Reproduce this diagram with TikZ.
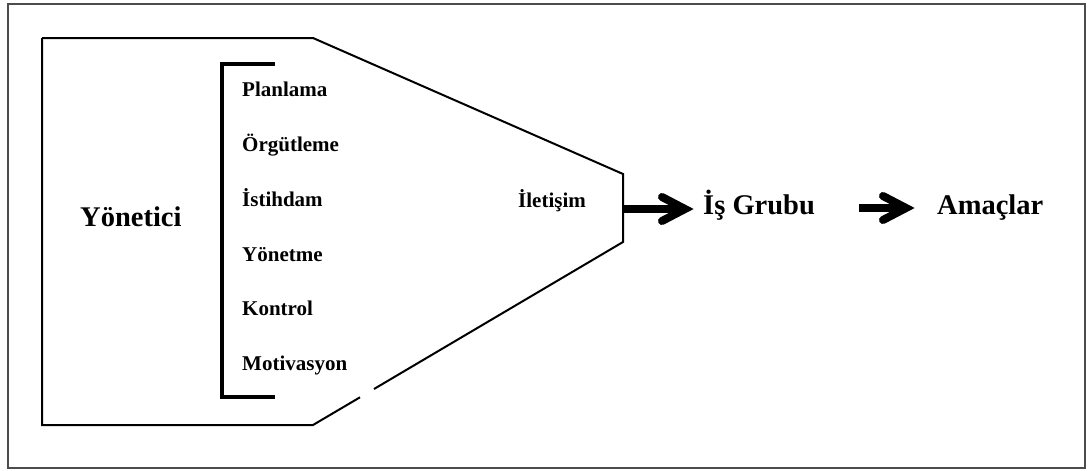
\documentclass[tikz,border=0pt]{standalone}
\usepackage{fontspec}
\setmainfont{Liberation Serif}
\usetikzlibrary{calc}
\tikzset{
  frame/.style={draw=black!70, line width=1.2pt},
  outline/.style={draw=black, line width=2pt},
  bracket/.style={draw=black, line width=3.5pt},
  item/.style={anchor=base west, inner sep=0pt, font=\fontsize{21}{25}\selectfont\bfseries},
  big/.style={anchor=base west, inner sep=0pt, font=\fontsize{28.5}{34}\selectfont\bfseries},
  shaft/.style={draw=black, line width=8pt},
  chevron/.style={draw=black, line width=8pt, line cap=round, line join=miter},
}
\begin{document}
\begin{tikzpicture}[x=1pt, y=-1pt]
\useasboundingbox (0,0) rectangle (1088,471);
% outer frame
\draw[frame] (8,4) rectangle (1085,468);
% manager shape
\coordinate (tl) at (42,38);
\coordinate (tr) at (313,38);
\coordinate (rt) at (623,174);
\coordinate (rb) at (623,242);
\coordinate (br) at (313,425);
\coordinate (bl) at (42,425);
\draw[outline, line join=miter] (tl) -- (tr) -- (rt) -- (rb) -- (374,389);
\draw[outline, line join=miter] (360,397.3) -- (br) -- (bl) -- (tl);
% function bracket
\draw[bracket, line join=miter] (275,64) -- (222,64) -- (222,397) -- (275,397);
% labels
\node[big] (yon) at (80,226) {Yönetici};
\node[item] (p1) at (242,96) {Planlama};
\node[item] (p2) at (242,151) {Örgütleme};
\node[item] (p3) at (242,206) {İstihdam};
\node[item] (p4) at (242,261) {Yönetme};
\node[item] (p5) at (242,315) {Kontrol};
\node[item] (p6) at (242,370) {Motivasyon};
\node[item] (ilt) at (518,207) {İletişim};
\node[big] (grup) at (703,214) {İş Grubu};
\node[big] (amac) at (937,214) {Amaçlar};
% arrows
\coordinate (a1) at (623,209);
\coordinate (e1) at (685,209);
\coordinate (a2) at (859,208);
\coordinate (e2) at (906,208);
\draw[shaft] (a1) -- (e1);
\draw[chevron] ($(e1)+(-23,-12)$) -- (e1) -- ($(e1)+(-23,12)$);
\draw[shaft] (a2) -- (e2);
\draw[chevron] ($(e2)+(-23,-12)$) -- (e2) -- ($(e2)+(-23,12)$);
\end{tikzpicture}
\end{document}
